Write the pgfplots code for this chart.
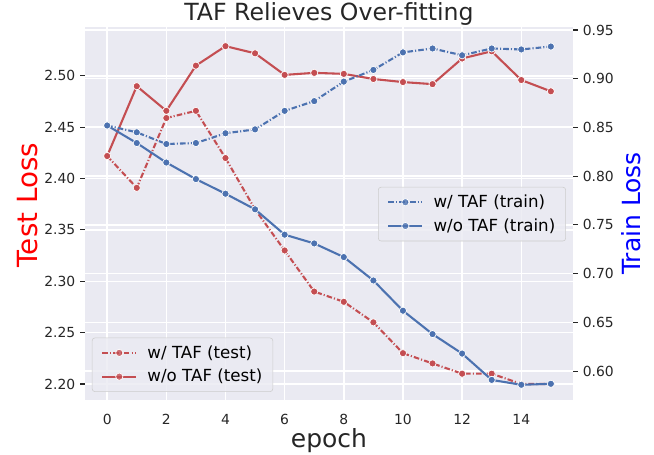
\documentclass[border=0pt]{standalone}
\usepackage{pgfplots}
\pgfplotsset{compat=1.18}
\usepackage{fontspec}
\setmainfont{DejaVu Sans}
\definecolor{bgc}{HTML}{EAEAF2}
\definecolor{sred}{HTML}{C44E52}
\definecolor{sblue}{HTML}{4C72B0}
\definecolor{tickc}{HTML}{262626}
\pgfplotsset{set layers}
\pgfplotsset{
  common/.style={
    scale only axis, width=351.4pt, height=268.6pt,
    at={(0,0)}, anchor=south west,
    xmin=-0.75, xmax=15.75,
    axis line style={draw=none},
    /pgf/number format/assume math mode=true,
    tick label style={font=\fontsize{10}{12}\selectfont, text=tickc},
    major tick length=3.5pt, tick align=outside,
    tick style={tickc, line width=0.8pt},
    major grid style={white, line width=1.1pt},
    legend cell align=left,
    legend style={font=\fontsize{12}{14}\selectfont, fill=bgc, fill opacity=0.8, text opacity=1,
      draw=black!20, rounded corners=2pt, inner xsep=4.5pt, inner ysep=3.5pt,
      row sep=2.5pt, column sep=4.3pt, nodes={inner xsep=3pt}},
    legend image code/.code={\path (0pt,0pt) -- (0pt,0pt);
      \draw[mark repeat=2,mark phase=2,##1] plot coordinates {(2pt,0pt)(14.25pt,0pt)(26.5pt,0pt)};},
    every axis plot/.append style={line width=1.5pt, mark=*, mark size=2.6pt,
      mark options={solid, draw=white, line width=0.5pt}},
    ddot/.style={dash pattern=on 4pt off 1.5pt on 0.8pt off 1.5pt},
  }
}
\begin{document}
\begin{tikzpicture}
\begin{axis}[common,
  axis background/.style={fill=bgc},
  ymin=2.1844, ymax=2.5477,
  ytick={2.20,2.25,2.30,2.35,2.40,2.45,2.50},
  yticklabel style={/pgf/number format/.cd, fixed, fixed zerofill, precision=2},
  xtick={0,2,4,6,8,10,12,14},
  x tick style={draw=none},
  xticklabel style={yshift=-3pt},
  ytick pos=left,
  xmajorgrids, ymajorgrids,
  title={TAF Relieves Over-fitting},
  title style={font=\fontsize{17}{20}\selectfont, text=tickc, at={([yshift=3pt]axis description cs:0.5,1)}, anchor=center, yshift=0pt},
  xlabel={epoch},
  xlabel style={font=\fontsize{18}{21}\selectfont, text=tickc, at={([yshift=-29.5pt]axis description cs:0.5,0)}, anchor=center},
  ylabel={Test Loss},
  ylabel style={font=\fontsize{20}{24}\selectfont, text=red, at={([xshift=-41pt,yshift=6pt]axis description cs:0,0.5)}, anchor=center},
  legend style={at={(0.0142,0.0216)}, anchor=south west},
]
\addplot[sred, ddot] coordinates {(0,2.422)(1,2.391)(2,2.459)(3,2.466)(4,2.420)(5,2.370)(6,2.330)(7,2.290)(8,2.280)(9,2.260)(10,2.230)(11,2.220)(12,2.210)(13,2.210)(14,2.200)(15,2.200)};
\addlegendentry{w/ TAF (test)}
\addplot[sred] coordinates {(0,2.422)(1,2.490)(2,2.466)(3,2.510)(4,2.529)(5,2.522)(6,2.501)(7,2.503)(8,2.502)(9,2.497)(10,2.494)(11,2.492)(12,2.517)(13,2.524)(14,2.496)(15,2.485)};
\addlegendentry{w/o TAF (test)}
\end{axis}
\begin{axis}[common,
  ymin=0.5704, ymax=0.9531,
  ytick={0.60,0.65,0.70,0.75,0.80,0.85,0.90,0.95},
  yticklabel style={/pgf/number format/.cd, fixed, fixed zerofill, precision=2},
  xtick=\empty,
  ytick pos=right, yticklabel pos=right,
  ymajorgrids,
  ylabel={Train Loss},
  ylabel style={font=\fontsize{18}{22}\selectfont, text=blue, at={([xshift=41.8pt,yshift=0pt]axis description cs:1,0.5)}, anchor=center},
  legend style={at={(0.9855,0.5711)}, anchor=north east},
]
\addplot[sblue, ddot] coordinates {(0,0.852)(1,0.845)(2,0.833)(3,0.834)(4,0.844)(5,0.848)(6,0.867)(7,0.877)(8,0.897)(9,0.909)(10,0.927)(11,0.931)(12,0.924)(13,0.931)(14,0.930)(15,0.933)};
\addlegendentry{w/ TAF (train)}
\addplot[sblue] coordinates {(0,0.852)(1,0.834)(2,0.814)(3,0.797)(4,0.782)(5,0.766)(6,0.740)(7,0.731)(8,0.717)(9,0.693)(10,0.662)(11,0.638)(12,0.618)(13,0.591)(14,0.586)(15,0.587)};
\addlegendentry{w/o TAF (train)}
\end{axis}
\pgfresetboundingbox
\path[use as bounding box] (-61.2pt,-38.9pt) rectangle (409.7pt,288pt);
\end{tikzpicture}
\end{document}
